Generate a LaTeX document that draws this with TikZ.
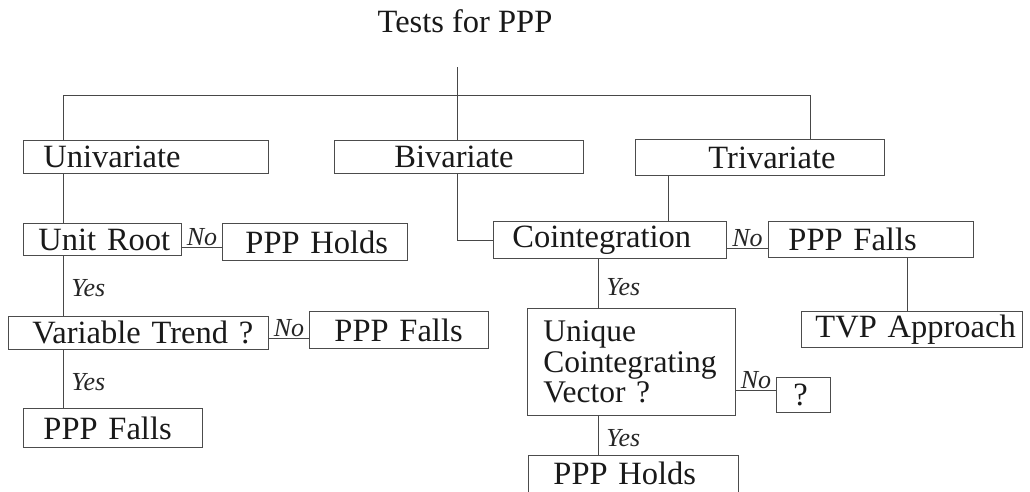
\documentclass[tikz,border=0pt]{standalone}
\usepackage{fontspec}
\setmainfont{Liberation Serif}
\begin{document}
\begin{tikzpicture}[x=1pt,y=-1pt,
  ln/.style={draw=black!72, line width=0.9pt},
  bx/.style={draw=black!70, line width=0.9pt, anchor=north west, inner xsep=0pt, inner ysep=0pt, align=left, font=\fontsize{32.5}{29}\selectfont, text=black!90},
  lab/.style={font=\itshape\fontsize{26}{28}\selectfont, text=black!85, inner sep=1pt}]
\useasboundingbox (0,0) rectangle (1030,491);
\clip (0,0) rectangle (1030,491);

\node[font=\fontsize{32.5}{36}\selectfont, anchor=base, text=black!90] (title) at (465,32) {Tests for PPP};

\node[bx, text width=245pt, minimum height=33pt] (uni) at (23,140) {\hspace*{20pt}Univariate};
\node[bx, text width=249pt, minimum height=33pt] (biv) at (334,140) {\hspace*{60pt}Bivariate};
\node[bx, text width=249pt, minimum height=36pt] (tri) at (635,139) {\hspace*{73pt}Trivariate};
\node[bx, text width=158pt, minimum height=32pt] (ur) at (23,223) {\hspace*{15pt}Unit Root};
\node[bx, text width=185pt, minimum height=37pt] (ph1) at (222,223) {\hspace*{23pt}PPP Holds};
\node[bx, text width=233pt, minimum height=37pt] (coint) at (493,221) {\hspace*{19pt}Cointegration};
\node[bx, text width=205pt, minimum height=36pt] (pfr) at (768,221) {\hspace*{20pt}PPP Falls};
\node[bx, text width=260pt, minimum height=33pt] (vt) at (8,316) {\hspace*{24pt}Variable Trend ?};
\node[bx, text width=179pt, minimum height=37pt] (pf2) at (309,311) {\hspace*{25pt}PPP Falls};
\node[bx, text width=221pt, minimum height=36pt] (tvp) at (801,311) {\hspace*{14pt}TVP Approach};
\node[bx, text width=208pt, minimum height=107pt, font=\fontsize{31.5}{30.5}\selectfont] (uniq) at (527,308) {\hspace*{16pt}Unique\\\hspace*{16pt}Cointegrating\\\hspace*{16pt}Vector ?};
\node[bx, text width=54pt, minimum height=35pt] (qm) at (776,377) {\hspace*{17pt}?};
\node[bx, text width=179pt, minimum height=39pt] (pf3) at (23,408) {\hspace*{20pt}PPP Falls};
\node[bx, text width=210pt, minimum height=45pt, text depth=9pt] (ph2) at (528,455) {\hspace*{25pt}PPP Holds};

\coordinate (top) at (457,67);
\coordinate (busL) at (63,95);
\coordinate (busR) at (810,95);
\coordinate (trix) at (668,0);
\coordinate (cyx) at (598,0);
\coordinate (tvx) at (907,0);
\coordinate (n1) at (0,247);
\coordinate (n2) at (0,338);
\coordinate (n3) at (0,248);
\coordinate (n4) at (0,390);

\draw[ln] (top) -- (top |- biv.north);
\draw[ln] (busL |- uni.north) -- (busL) -- (busR) -- (busR |- tri.north);
\draw[ln] (busL |- uni.south) -- (busL |- ur.north);
\draw[ln] (busL |- ur.south) -- node[lab, right, xshift=7pt, yshift=-2pt]{Yes} (busL |- vt.north);
\draw[ln] (busL |- vt.south) -- node[lab, right, xshift=7pt, yshift=-3pt]{Yes} (busL |- pf3.north);
\draw[ln] (top |- biv.south) |- (coint.west);
\draw[ln] (trix |- tri.south) -- (trix |- coint.north);
\draw[ln] (cyx |- coint.south) -- node[lab, right, xshift=7pt, yshift=-4pt]{Yes} (cyx |- uniq.north);
\draw[ln] (cyx |- uniq.south) -- node[lab, right, xshift=7pt, yshift=-3pt]{Yes} (cyx |- ph2.north);
\draw[ln] (tvx |- pfr.south) -- (tvx |- tvp.north);

\draw[ln] (n1 -| ur.east) -- node[lab, above]{No} (n1 -| ph1.west);
\draw[ln] (n2 -| vt.east) -- node[lab, above]{No} (n2 -| pf2.west);
\draw[ln] (n3 -| coint.east) -- node[lab, above]{No} (n3 -| pfr.west);
\draw[ln] (n4 -| uniq.east) -- node[lab, above]{No} (n4 -| qm.west);
\end{tikzpicture}
\end{document}
